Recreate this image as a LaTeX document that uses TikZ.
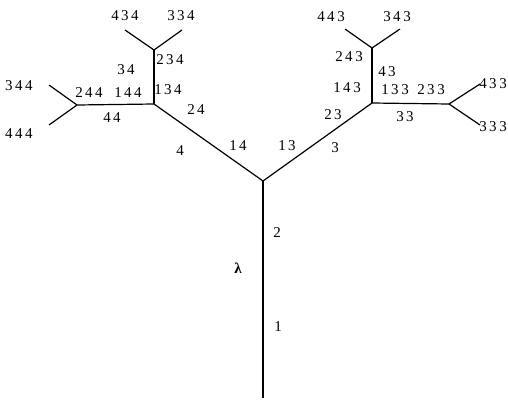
\documentclass[tikz,border=0pt]{standalone}
\usepackage{fontspec}
\setmainfont{Liberation Serif}
\begin{document}
\begin{tikzpicture}[x=1pt,y=-1pt,
  edge/.style={line width=1.2pt,black},
  lbl/.style={font=\fontsize{15}{17}\selectfont,inner sep=0pt}]
\useasboundingbox (0,0) rectangle (508,404);
% junctions and ends
\coordinate (root) at (263,398);
\coordinate (c) at (263,181);
\coordinate (L) at (154,104);
\coordinate (R) at (372,103);
\coordinate (LU) at (154,50);
\coordinate (LL) at (77,105);
\coordinate (RU) at (372,48);
\coordinate (RR) at (449,104);
\coordinate (e434) at (125,30);
\coordinate (e334) at (182,30);
\coordinate (e344) at (49,85);
\coordinate (e444) at (49,125);
\coordinate (e443) at (345,29);
\coordinate (e343) at (400,29);
\coordinate (e433) at (480,84);
\coordinate (e333) at (480,125);
% edges
\draw[edge] (root) -- (c);
\draw[edge] (c) -- (L);
\draw[edge] (c) -- (R);
\draw[edge] (L) -- (LU);
\draw[edge] (L) -- (LL);
\draw[edge] (R) -- (RU);
\draw[edge] (R) -- (RR);
\draw[edge] (LU) -- (e434);
\draw[edge] (LU) -- (e334);
\draw[edge] (LL) -- (e344);
\draw[edge] (LL) -- (e444);
\draw[edge] (RU) -- (e443);
\draw[edge] (RU) -- (e343);
\draw[edge] (RR) -- (e433);
\draw[edge] (RR) -- (e333);
% labels
\node[lbl] (t434) at (125,16) {4\,3\,4};
\node[lbl] (t334) at (181,16) {3\,3\,4};
\node[lbl] (t234) at (170,60) {2\,3\,4};
\node[lbl] (t34) at (126,70) {3\,4};
\node[lbl] (t134) at (168,90) {1\,3\,4};
\node[lbl] (t344) at (19,86) {3\,4\,4};
\node[lbl] (t444) at (19,134) {4\,4\,4};
\node[lbl] (t244) at (89,93) {2\,4\,4};
\node[lbl] (t144) at (128,93) {1\,4\,4};
\node[lbl] (t44) at (112,118) {4\,4};
\node[lbl] (t24) at (196,110) {2\,4};
\node[lbl] (t4) at (180,151) {4};
\node[lbl] (t14) at (238,146) {1\,4};
\node[lbl] (t443) at (331,17) {4\,4\,3};
\node[lbl] (t343) at (397,17) {3\,4\,3};
\node[lbl] (t243) at (349,57) {2\,4\,3};
\node[lbl] (t43) at (387,72) {4\,3};
\node[lbl] (t143) at (347,88) {1\,4\,3};
\node[lbl] (t133) at (395,90) {1\,3\,3};
\node[lbl] (t233) at (431,90) {2\,3\,3};
\node[lbl] (t433) at (493,84) {4\,3\,3};
\node[lbl] (t333) at (493,127) {3\,3\,3};
\node[lbl] (t33) at (405,117) {3\,3};
\node[lbl] (t23) at (333,115) {2\,3};
\node[lbl] (t3) at (335,148) {3};
\node[lbl] (t13) at (287,146) {1\,3};
\node[lbl] (t2) at (277,233) {2};
\node[lbl] (tl) at (238,268) {\bfseries λ};
\node[lbl] (t1) at (278,327) {1};
\end{tikzpicture}
\end{document}
